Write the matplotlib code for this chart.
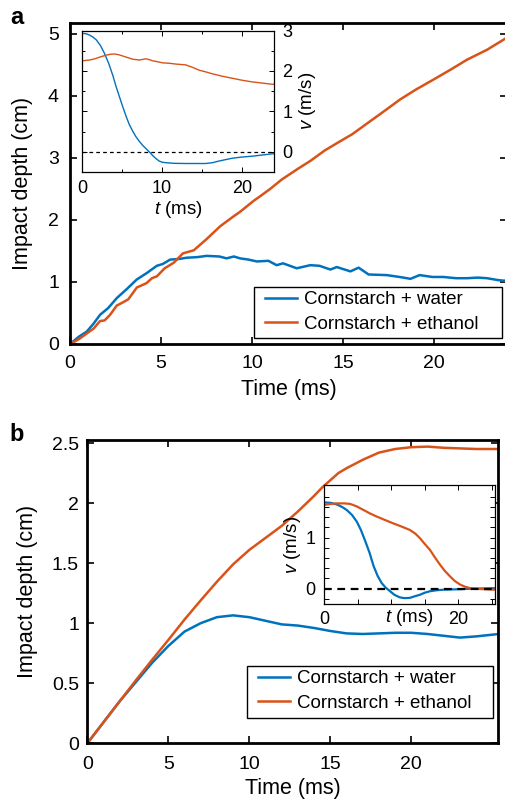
import matplotlib
matplotlib.use("Agg")
import matplotlib.pyplot as plt
from matplotlib.ticker import MultipleLocator, FixedLocator
from matplotlib.patches import Rectangle
from matplotlib.lines import Line2D

plt.rcParams['font.family'] = ['Liberation Sans', 'DejaVu Sans']
plt.rcParams['mathtext.fontset'] = 'custom'
plt.rcParams['mathtext.it'] = 'Liberation Sans:italic'
plt.rcParams['mathtext.rm'] = 'Liberation Sans'

BLUE = '#0072BD'
ORANGE = '#D95319'
TFS = 14      # main tick labels
LFS = 15.5    # main axis labels
IFS = 13      # inset text
GFS = 13.5    # legend

# ---------------- Panel a: main (impact depth) ----------------
a_water_t = [0, 0.5, 0.92, 1.3, 1.65, 2.1, 2.57, 3.1, 3.67, 4.2, 4.77, 5.1, 5.5, 6.0, 6.4, 7.0,
             7.5, 8.2, 8.6, 9.0, 9.34, 9.8, 10.26, 10.9, 11.35, 11.7, 12.45, 13.2, 13.7, 14.3,
             14.65, 15.4, 15.85, 16.4, 17.4, 18.1, 18.7, 19.2, 19.9, 20.5, 21.2, 21.8, 22.4,
             22.9, 23.5, 23.85, 24.0]
a_water_d = [0, 0.12, 0.20, 0.33, 0.47, 0.58, 0.74, 0.88, 1.04, 1.14, 1.26, 1.29, 1.36, 1.37, 1.39,
             1.40, 1.42, 1.41, 1.38, 1.41, 1.38, 1.36, 1.33, 1.34, 1.27, 1.30, 1.22, 1.27, 1.26,
             1.20, 1.24, 1.17, 1.23, 1.12, 1.11, 1.08, 1.05, 1.11, 1.08, 1.08, 1.06, 1.06, 1.07,
             1.06, 1.03, 1.02, 1.03]
a_eth_t = [0, 0.5, 0.92, 1.3, 1.65, 1.9, 2.2, 2.57, 2.9, 3.2, 3.67, 4.2, 4.5, 4.77, 5.2, 5.7, 6.2,
           6.8, 7.5, 8.26, 9.0, 9.34, 10.1, 10.44, 11.0, 11.63, 12.5, 13.2, 14.0, 14.8, 15.5,
           16.3, 17.2, 18.13, 19.0, 19.96, 20.9, 21.8, 22.9, 23.96, 24.0]
a_eth_d = [0, 0.08, 0.17, 0.25, 0.37, 0.38, 0.47, 0.62, 0.67, 0.72, 0.91, 0.98, 1.06, 1.09, 1.22,
           1.31, 1.46, 1.51, 1.69, 1.90, 2.06, 2.13, 2.31, 2.38, 2.50, 2.65, 2.82, 2.95, 3.12,
           3.26, 3.38, 3.55, 3.74, 3.94, 4.10, 4.26, 4.42, 4.58, 4.74, 4.93, 4.94]

# ---------------- Panel a: inset (velocity) ----------------
ai_water_t = [0, 0.5, 0.9, 1.35, 1.78, 2.3, 2.82, 3.35, 3.85, 4.25, 4.68, 5.1, 5.51, 5.9, 6.34,
              6.75, 7.16, 7.58, 7.99, 8.4, 8.82, 9.25, 9.65, 10.05, 10.48, 11.5, 12.96, 14.2,
              15.45, 16.3, 17.1, 18.76, 20.0, 21.24, 22.5, 23.81, 24.0]
ai_water_v = [2.93, 2.92, 2.89, 2.84, 2.77, 2.63, 2.43, 2.18, 1.89, 1.62, 1.36, 1.11, 0.88, 0.68,
              0.51, 0.37, 0.26, 0.16, 0.08, 0.0, -0.09, -0.17, -0.23, -0.26, -0.27, -0.285, -0.29,
              -0.29, -0.29, -0.27, -0.23, -0.16, -0.13, -0.11, -0.08, -0.05, -0.05]
ai_eth_t = [0, 0.95, 1.6, 2.19, 3.02, 3.5, 4.06, 4.6, 5.09, 5.7, 6.34, 7.16, 7.99, 8.4, 8.82, 9.4,
            10.06, 10.9, 11.72, 12.3, 12.96, 13.8, 14.62, 15.4, 16.27, 17.5, 18.76, 20.0, 21.24,
            22.5, 23.81, 24.0]
ai_eth_v = [2.25, 2.27, 2.30, 2.34, 2.39, 2.41, 2.42, 2.40, 2.37, 2.33, 2.29, 2.27, 2.30, 2.28,
            2.25, 2.23, 2.20, 2.19, 2.17, 2.16, 2.15, 2.09, 2.02, 1.98, 1.93, 1.87, 1.82, 1.77,
            1.73, 1.70, 1.67, 1.67]

# ---------------- Panel b: main ----------------
b_water_t = [0, 1, 2, 3, 4, 5, 6, 7, 8, 9, 10, 11, 12, 13, 14, 15, 16, 17, 18, 19, 20, 21, 22,
             23, 24, 25.4]
b_water_d = [0, 0.175, 0.35, 0.51, 0.67, 0.81, 0.93, 1.00, 1.05, 1.065, 1.05, 1.02, 0.99, 0.98,
             0.96, 0.935, 0.915, 0.91, 0.915, 0.92, 0.92, 0.91, 0.895, 0.88, 0.89, 0.91]
b_eth_t = [0, 1, 2, 3, 4, 5, 6, 7, 8, 9, 10, 11, 12, 13, 14, 14.5, 15, 15.5, 16, 17, 18, 19, 20,
           21, 22, 23, 24, 25.4]
b_eth_d = [0, 0.175, 0.35, 0.525, 0.695, 0.86, 1.03, 1.19, 1.345, 1.49, 1.61, 1.71, 1.81, 1.93,
           2.06, 2.13, 2.19, 2.25, 2.29, 2.36, 2.42, 2.45, 2.465, 2.47, 2.46, 2.455, 2.45, 2.45]

# ---------------- Panel b: inset ----------------
bi_water_t = [0, 1, 1.9, 2.7, 3.4, 4.2, 4.9, 5.5, 6.1, 6.8, 7.4, 8.0, 8.6, 9.2, 9.85, 10.5, 11.3,
              12.0, 12.8, 13.5, 14.3, 15.0, 15.8, 16.8, 17.8, 20.3, 22.0, 25.5]
bi_water_v = [1.69, 1.68, 1.65, 1.60, 1.54, 1.44, 1.31, 1.15, 0.95, 0.70, 0.44, 0.25, 0.11, 0.02,
              -0.05, -0.12, -0.17, -0.185, -0.18, -0.15, -0.12, -0.08, -0.05, -0.03, -0.02,
              -0.01, 0.0, 0.01]
bi_eth_t = [0, 1, 1.9, 3.0, 3.9, 4.9, 5.9, 6.9, 7.9, 9.0, 10.3, 11.5, 12.8, 13.6, 14.3, 15.0,
            15.8, 16.5, 17.3, 18.0, 18.8, 19.5, 20.3, 21.0, 21.8, 23.0, 23.8, 25.5]
bi_eth_v = [1.64, 1.66, 1.67, 1.67, 1.66, 1.61, 1.54, 1.47, 1.41, 1.35, 1.28, 1.22, 1.15, 1.08,
            0.99, 0.88, 0.76, 0.62, 0.47, 0.35, 0.24, 0.15, 0.08, 0.04, 0.01, -0.005, -0.01,
            -0.02]

labels = ['Cornstarch + water', 'Cornstarch + ethanol']

W, H = 506, 802
fig = plt.figure(figsize=(W / 100, H / 100), dpi=100)


def rect(x0, y0, x1, y1):
    return [x0 / W, 1 - y1 / H, (x1 - x0) / W, (y1 - y0) / H]


def fx(x):
    return x / W


def fy(y):
    return 1 - y / H


def style_main(ax, xpad, ypad):
    for s in ax.spines.values():
        s.set_linewidth(2.0)
    ax.tick_params(direction='in', length=5, width=1.2, top=True, right=True, labelsize=TFS)
    ax.tick_params(axis='x', pad=xpad)
    ax.tick_params(axis='y', pad=ypad)


def style_inset(ax):
    for s in ax.spines.values():
        s.set_linewidth(0.9)
    ax.tick_params(which='both', direction='in', top=True, right=True, labelsize=IFS, width=0.7)
    ax.tick_params(which='major', length=3.5)
    ax.tick_params(which='minor', length=2)


def boxed_legend(handles, box, text_anchor):
    x0, y0, x1, y1 = box
    r = Rectangle((fx(x0), fy(y1)), fx(x1) - fx(x0), fy(y0) - fy(y1), transform=fig.transFigure,
                  facecolor='white', edgecolor='black', lw=1.0, zorder=4)
    fig.add_artist(r)
    leg = fig.legend(handles=handles, labels=labels, loc='upper left',
                     bbox_to_anchor=(fx(text_anchor[0]), fy(text_anchor[1])),
                     bbox_transform=fig.transFigure, fontsize=GFS, frameon=False,
                     handlelength=1.7, handletextpad=0.4, borderpad=0, borderaxespad=0,
                     labelspacing=0.4)
    leg.set_zorder(5)
    return leg


# ----- Panel a main -----
axa = fig.add_axes(rect(70, 22.5, 507, 344))
axa.plot(a_water_t, a_water_d, color=BLUE, lw=1.8)
axa.plot(a_eth_t, a_eth_d, color=ORANGE, lw=1.8)
axa.set_xlim(0, 24)
axa.set_ylim(0, 5.18)
axa.set_xticks([0, 5, 10, 15, 20])
axa.set_yticks([0, 1, 2, 3, 4, 5])
style_main(axa, 8, 8)
axa.set_xlabel('Time (ms)', fontsize=LFS, labelpad=5)
axa.set_ylabel('Impact depth (cm)', fontsize=LFS, labelpad=11)
hw = Line2D([], [], color=BLUE, lw=1.8)
he = Line2D([], [], color=ORANGE, lw=1.8)
boxed_legend([hw, he], (254, 287, 502, 338), (265, 291))
fig.text(fx(17), fy(17), 'a', fontsize=17, fontweight='bold', va='center', ha='center')

# ----- Panel a inset -----
axai = fig.add_axes(rect(82, 30.5, 274, 172))
axai.plot(ai_water_t, ai_water_v, color=BLUE, lw=1.0)
axai.plot(ai_eth_t, ai_eth_v, color=ORANGE, lw=1.0)
axai.axhline(0, color='black', lw=0.9, ls=(0, (3, 2.5)))
axai.set_xlim(0, 24)
axai.set_ylim(-0.5, 3.0)
axai.set_xticks([0, 10, 20])
axai.xaxis.set_minor_locator(MultipleLocator(5))
axai.set_yticks([0, 1, 2, 3])
axai.yaxis.set_minor_locator(MultipleLocator(0.5))
style_inset(axai)
axai.yaxis.tick_right()
axai.tick_params(which='both', left=True, right=True, labelleft=False, labelright=True)
axai.tick_params(axis='y', pad=6)
axai.tick_params(axis='x', pad=6)
axai.yaxis.set_label_position('right')
axai.set_ylabel(r'$v$ (m/s)', fontsize=IFS + 0.5, labelpad=3)
axai.set_xlabel(r'$t$ (ms)', fontsize=IFS + 0.5, labelpad=1)

# ----- Panel b main -----
axb = fig.add_axes(rect(87.3, 440, 498, 743.3))
axb.plot(b_water_t, b_water_d, color=BLUE, lw=1.8)
axb.plot(b_eth_t, b_eth_d, color=ORANGE, lw=1.8)
axb.set_xlim(0, 25.35)
axb.set_ylim(0, 2.525)
axb.set_xticks([0, 5, 10, 15, 20])
axb.set_yticks([0, 0.5, 1, 1.5, 2, 2.5])
axb.set_yticklabels(['0', '0.5', '1', '1.5', '2', '2.5'])
style_main(axb, 9, 6)
axb.set_xlabel('Time (ms)', fontsize=LFS, labelpad=4)
axb.set_ylabel('Impact depth (cm)', fontsize=LFS, labelpad=10)
boxed_legend([hw, he], (247, 666, 493, 718), (258, 670))
fig.text(fx(17), fy(434), 'b', fontsize=17, fontweight='bold', va='center', ha='center')

# ----- Panel b inset -----
axbi = fig.add_axes(rect(324, 485, 495, 604))
axbi.plot(bi_water_t, bi_water_v, color=BLUE, lw=1.6)
axbi.plot(bi_eth_t, bi_eth_v, color=ORANGE, lw=1.6)
axbi.axhline(0, color='black', lw=1.6, ls=(0, (3.5, 2.5)))
axbi.set_xlim(0, 25.5)
axbi.set_ylim(-0.3, 2.03)
axbi.xaxis.set_major_locator(FixedLocator([0, 5, 10, 15, 20, 25]))
axbi.set_xticklabels(['0', '', '', '', '20', ''])
axbi.yaxis.set_major_locator(FixedLocator([-0.2, 0, 0.2, 0.4, 0.6, 0.8, 1.0, 1.2, 1.4, 1.6, 1.8]))
axbi.set_yticklabels(['', '0', '', '', '', '', '1', '', '', '', ''])
style_inset(axbi)
axbi.tick_params(axis='y', pad=6)
axbi.tick_params(axis='x', pad=5)
axbi.set_xlabel(r'$t$ (ms)', fontsize=IFS + 0.5, labelpad=-15)
axbi.set_ylabel(r'$v$ (m/s)', fontsize=IFS + 0.5, labelpad=2)

fig.savefig('out.png', dpi=100)
